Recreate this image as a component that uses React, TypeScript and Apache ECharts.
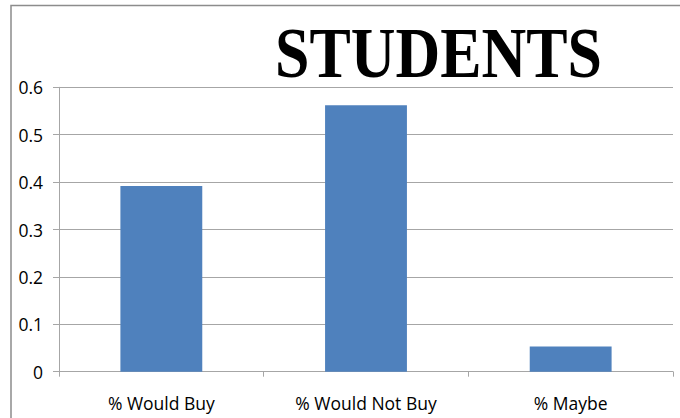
import React, { useEffect, useRef } from "react";
import * as echarts from "echarts";

const categories = ["% Would Buy", "% Would Not Buy", "% Maybe"];
const values = [0.392, 0.562, 0.053];
const titleText = "STUDENTS";

export default function App() {
  const ref = useRef<HTMLDivElement>(null);
  useEffect(() => {
    document.body.style.margin = "0";
    const chart = echarts.init(ref.current!, null, { renderer: "svg" });
    const gray = "#a6a6a6";
    chart.setOption({
      animation: false,
      backgroundColor: "#ffffff",
      grid: { left: 59, right: 7, top: 87.3, bottom: 46.3, containLabel: false },
      graphic: [
        {
          type: "rect",
          shape: { x: 11, y: 5.5, width: 720, height: 460 },
          style: { fill: "none", stroke: "#8c8c8c", lineWidth: 1.5 },
          silent: true,
          z: 10,
        },
        {
          type: "text",
          x: 438.5,
          y: 53,
          scaleX: 0.86,
          style: {
            text: titleText,
            fontFamily: "Liberation Serif",
            fontWeight: "bold",
            fontSize: 72,
            fill: "#000000",
            align: "center",
            verticalAlign: "middle",
          },
        },
      ],
      xAxis: {
        type: "category",
        data: categories,
        boundaryGap: true,
        axisLine: { show: true, lineStyle: { color: gray, width: 1 } },
        axisTick: { show: true, length: 5, alignWithLabel: false, lineStyle: { color: gray } },
        axisLabel: {
          margin: 22,
          color: "#000000",
          fontFamily: "Open Sans",
          fontSize: 17.5,
        },
      },
      yAxis: {
        type: "value",
        min: 0,
        max: 0.6,
        interval: 0.1,
        axisLine: { show: true, lineStyle: { color: gray, width: 1 } },
        axisTick: { show: true, length: 6, lineStyle: { color: gray } },
        splitLine: { show: true, lineStyle: { color: gray, width: 1 } },
        axisLabel: {
          margin: 16,
          color: "#000000",
          fontFamily: "Open Sans",
          fontSize: 17.5,
        },
      },
      series: [
        {
          type: "bar",
          data: values,
          barWidth: "40%",
          itemStyle: { color: "#4f81bd" },
        },
      ],
    });
    return () => chart.dispose();
  }, []);
  return <div ref={ref} style={{ width: 680, height: 418 }} />;
}
